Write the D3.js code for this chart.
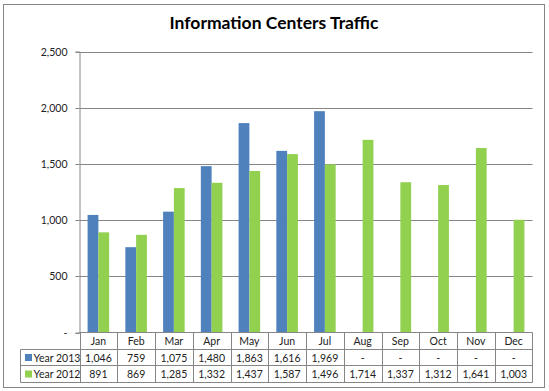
<!DOCTYPE html>
<html><head><meta charset="utf-8">
<script src="https://cdn.jsdelivr.net/npm/d3@7"></script>
<style>
html,body{margin:0;padding:0;background:#fff;}
svg{display:block;font-family:Lato,"Open Sans",sans-serif;}
</style></head>
<body>
<script>
const months = ["Jan","Feb","Mar","Apr","May","Jun","Jul","Aug","Sep","Oct","Nov","Dec"];
const seriesNames = ["Year 2013","Year 2012"];
const year2013 = [1046,759,1075,1480,1863,1616,1969,null,null,null,null,null];
const year2012 = [891,869,1285,1332,1437,1587,1496,1714,1337,1312,1641,1003];
const yTicks = [0,500,1000,1500,2000,2500];
const title = "Information  Centers Traffic";
const colors = ["#4F81BD","#92D050"];

(function(){
const W = 549, H = 391;
const svg = d3.select("body").append("svg").attr("width",W).attr("height",H);

// outer chart border
svg.append("rect").attr("x",3.5).attr("y",4.5).attr("width",541).attr("height",383)
  .attr("fill","#fff").attr("stroke","#868686").attr("stroke-width",1);

svg.append("text").attr("x",274).attr("y",29).attr("text-anchor","middle")
  .attr("font-size",17.5).attr("font-weight","bold").attr("fill","#000").text(title);

const pL = 79.5, pR = 532.5, pT = 51.5, pB = 332.5;
const x = d3.scaleBand().domain(months).range([pL,pR]).padding(0);
const y = d3.scaleLinear().domain([0,2500]).range([pB,pT]);
const groupW = x.bandwidth()*2/3.5;
const xs = d3.scaleBand().domain(seriesNames).range([0,groupW]);

// gridlines
svg.append("g").selectAll("line").data(yTicks.filter(d=>d>0)).join("line")
  .attr("x1",pL).attr("x2",pR).attr("y1",d=>Math.round(y(d))+0.5).attr("y2",d=>Math.round(y(d))+0.5)
  .attr("stroke","#868686").attr("stroke-width",1);

// y axis
const fmt = d3.format(",");
const yAxis = d3.axisLeft(y).tickValues(yTicks).tickSize(4).tickPadding(8)
  .tickFormat(d=> d===0 ? "-" : fmt(d));
const ga = svg.append("g").attr("transform",`translate(${pL},0)`).call(yAxis);
ga.selectAll("path,line").attr("stroke","#868686");
ga.selectAll("text").attr("font-size",10.5).attr("fill","#222").attr("font-family","Lato,'Open Sans',sans-serif");
ga.selectAll(".tick").attr("transform",d=>`translate(0,${Math.round(y(d))+0.5})`);

// bars
const data = [year2013, year2012];
data.forEach((vals,si)=>{
  svg.append("g").selectAll("rect").data(months.map((m,i)=>({m,v:vals[i]})).filter(d=>d.v!=null))
    .join("rect")
    .attr("x",d=>x(d.m)+(x.bandwidth()-groupW)/2+xs(seriesNames[si]))
    .attr("width",xs.bandwidth())
    .attr("y",d=>y(d.v)).attr("height",d=>y(0)-y(d.v))
    .attr("fill",colors[si]);
});

// data table
const tLeft = 20.5, r0 = 332.5, r1 = 349.5, r2 = 365.5, r3 = 382.5;
const tg = svg.append("g").attr("stroke","#868686").attr("stroke-width",1);
tg.append("line").attr("x1",pL).attr("x2",pR).attr("y1",r0).attr("y2",r0);
[r1,r2,r3].forEach(r=>tg.append("line").attr("x1",tLeft).attr("x2",pR).attr("y1",r).attr("y2",r));
tg.append("line").attr("x1",tLeft).attr("x2",tLeft).attr("y1",r1).attr("y2",r3);
months.forEach(m=>{
  const xx = Math.round(x(m))+0.5;
  tg.append("line").attr("x1",xx).attr("x2",xx).attr("y1",r0).attr("y2",r3);
});
tg.append("line").attr("x1",pR).attr("x2",pR).attr("y1",r0).attr("y2",r3);

const txt = svg.append("g").attr("font-size",10.5).attr("fill","#222").attr("text-anchor","middle");
months.forEach(m=>{
  txt.append("text").attr("x",x(m)+x.bandwidth()/2).attr("y",(r0+r1)/2+4).text(m);
});
const rows = [[r1,r2],[r2,r3]];
data.forEach((vals,si)=>{
  const cy = (rows[si][0]+rows[si][1])/2;
  months.forEach((m,i)=>{
    txt.append("text").attr("x",x(m)+x.bandwidth()/2).attr("y",cy+4)
      .text(vals[i]==null ? "-" : fmt(vals[i]));
  });
  svg.append("rect").attr("x",25).attr("y",cy-3.5).attr("width",7).attr("height",7).attr("fill",colors[si]);
  svg.append("text").attr("x",33.5).attr("y",cy+4).attr("font-size",10.5).attr("fill","#222").text(seriesNames[si]);
});
})();
</script>
</body></html>
